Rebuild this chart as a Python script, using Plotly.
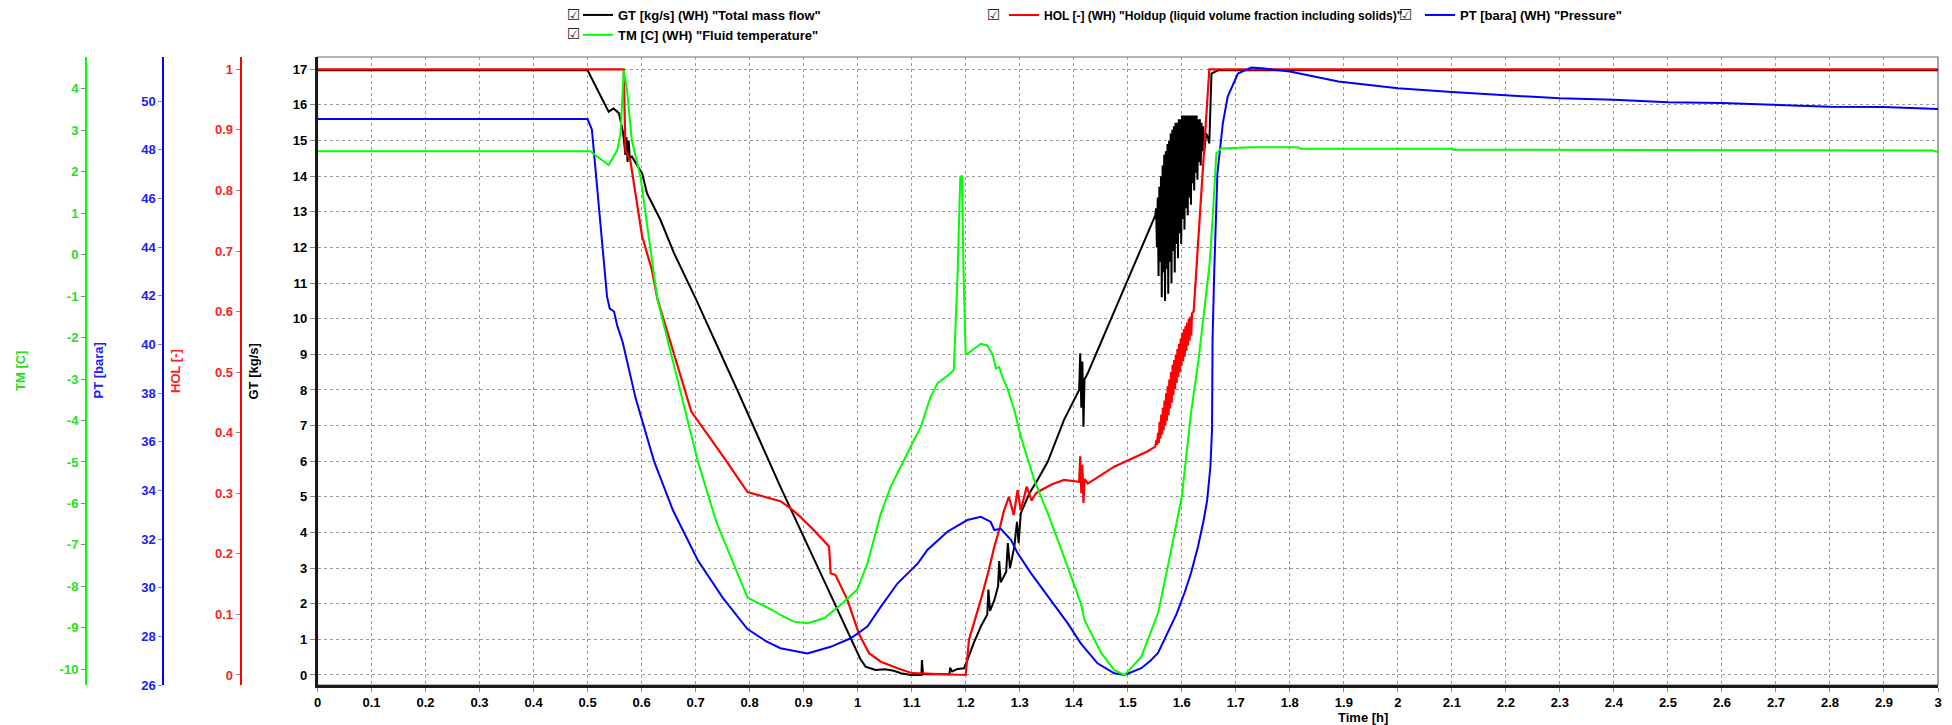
import plotly.graph_objects as go

# ---------------- data ----------------
# GT [kg/s] total mass flow : (time h, value)
GT_POINTS = [
    (0.000, 16.97), (0.500, 16.97), (0.539, 15.81), (0.548, 15.90), (0.558, 15.77),
    (0.566, 15.20), (0.570, 14.60), (0.572, 15.10), (0.574, 14.40), (0.576, 15.00),
    (0.578, 14.50), (0.582, 14.55), (0.590, 14.35), (0.601, 14.08), (0.610, 13.52),
    (0.635, 12.77), (0.660, 11.84), (0.700, 10.57), (0.780, 7.90), (0.857, 5.28),
    (0.930, 2.90), (0.987, 1.03), (1.005, 0.45), (1.015, 0.23), (1.033, 0.14),
    (1.050, 0.16), (1.067, 0.12), (1.080, 0.05), (1.098, 0.00), (1.118, 0.00),
    (1.119, 0.42), (1.121, 0.02), (1.170, 0.02), (1.171, 0.20), (1.175, 0.10),
    (1.185, 0.17), (1.197, 0.19), (1.203, 0.42), (1.215, 0.90), (1.228, 1.36),
    (1.240, 1.70), (1.242, 2.40), (1.245, 1.80), (1.253, 2.10), (1.260, 2.50),
    (1.262, 3.20), (1.265, 2.60), (1.275, 2.90), (1.278, 3.70), (1.282, 3.00),
    (1.290, 3.60), (1.295, 4.30), (1.298, 3.70), (1.302, 4.54), (1.310, 4.80),
    (1.318, 5.10), (1.333, 5.47), (1.352, 5.99), (1.382, 7.16), (1.410, 8.00),
    (1.412, 9.03), (1.414, 7.50), (1.416, 8.80), (1.418, 6.97), (1.420, 8.30),
    (1.426, 8.47), (1.500, 11.09), (1.549, 12.86),
    # oscillating section
    (1.5510, 12.9), (1.5525, 13.1), (1.5540, 12.0), (1.5555, 13.4), (1.5570, 11.2),
    (1.5585, 13.7), (1.5600, 11.6), (1.5615, 14.0), (1.5630, 10.6), (1.5645, 14.3),
    (1.5660, 11.3), (1.5675, 14.6), (1.5690, 10.5), (1.5705, 14.7), (1.5720, 11.4),
    (1.5735, 14.9), (1.5750, 10.7), (1.5765, 15.0), (1.5780, 11.6), (1.5795, 15.2),
    (1.5810, 11.0), (1.5825, 15.3), (1.5840, 11.9), (1.5855, 15.4), (1.5870, 11.3),
    (1.5885, 15.5), (1.5900, 12.1), (1.5915, 15.5), (1.5930, 11.7), (1.5945, 15.6),
    (1.5960, 12.4), (1.5975, 15.6), (1.5990, 12.1), (1.6005, 15.7), (1.6020, 12.8),
    (1.6035, 15.7), (1.6050, 12.5), (1.6065, 15.7), (1.6080, 13.1), (1.6095, 15.7),
    (1.6110, 12.9), (1.6125, 15.7), (1.6140, 13.4), (1.6155, 15.7), (1.6170, 13.2),
    (1.6185, 15.7), (1.6200, 13.8), (1.6215, 15.7), (1.6230, 13.6), (1.6245, 15.7),
    (1.6260, 14.1), (1.6275, 15.7), (1.6290, 13.9), (1.6305, 15.6), (1.6320, 14.4),
    (1.6335, 15.6), (1.6350, 14.3), (1.6365, 15.5), (1.6380, 14.7), (1.6395, 15.4),
    (1.6410, 14.6),
    (1.645, 15.20), (1.648, 15.11), (1.651, 14.92), (1.655, 16.88),
    (1.667, 16.97), (3.000, 16.97),
]

# HOL [-] holdup : (time h, value)
HOL_POINTS = [
    (0.000, 1.000), (0.567, 1.000), (0.570, 0.866), (0.579, 0.850), (0.601, 0.724),
    (0.619, 0.669), (0.629, 0.622), (0.658, 0.535), (0.692, 0.435), (0.757, 0.353),
    (0.796, 0.302), (0.857, 0.287), (0.876, 0.275), (0.894, 0.261), (0.919, 0.239),
    (0.947, 0.212), (0.950, 0.168), (0.959, 0.165), (0.981, 0.124), (1.002, 0.069),
    (1.021, 0.036), (1.043, 0.022), (1.074, 0.011), (1.101, 0.003), (1.200, 0.000),
    (1.206, 0.058), (1.228, 0.124), (1.243, 0.174), (1.253, 0.212), (1.262, 0.239),
    (1.271, 0.272), (1.280, 0.294), (1.289, 0.264), (1.296, 0.305), (1.302, 0.272),
    (1.313, 0.311), (1.322, 0.288), (1.330, 0.300), (1.339, 0.305), (1.360, 0.315),
    (1.382, 0.322), (1.410, 0.319), (1.412, 0.361), (1.414, 0.300), (1.416, 0.347),
    (1.418, 0.284), (1.420, 0.324), (1.426, 0.316), (1.475, 0.344), (1.536, 0.369),
    (1.551, 0.377),
    # oscillating section
    (1.5530, 0.388), (1.5545, 0.380), (1.5560, 0.400), (1.5575, 0.383), (1.5590, 0.418),
    (1.5605, 0.390), (1.5620, 0.430), (1.5635, 0.397), (1.5650, 0.441), (1.5665, 0.404),
    (1.5680, 0.453), (1.5695, 0.412), (1.5710, 0.465), (1.5725, 0.420), (1.5740, 0.477),
    (1.5755, 0.429), (1.5770, 0.488), (1.5785, 0.440), (1.5800, 0.500), (1.5815, 0.450),
    (1.5830, 0.512), (1.5845, 0.462), (1.5860, 0.520), (1.5875, 0.472), (1.5890, 0.529),
    (1.5905, 0.482), (1.5920, 0.538), (1.5935, 0.492), (1.5950, 0.547), (1.5965, 0.500),
    (1.5980, 0.556), (1.5995, 0.510), (1.6010, 0.565), (1.6025, 0.518), (1.6040, 0.571),
    (1.6055, 0.526), (1.6070, 0.576), (1.6085, 0.535), (1.6100, 0.582), (1.6115, 0.544),
    (1.6130, 0.588), (1.6145, 0.552), (1.6160, 0.592), (1.6175, 0.560), (1.6190, 0.597),
    (1.622, 0.600), (1.651, 1.000), (3.000, 1.000),
]

# TM [C] fluid temperature : (time h, value)
TM_POINTS = [
    (0.000, 2.49), (0.505, 2.49), (0.539, 2.16), (0.555, 2.52), (0.561, 2.92),
    (0.564, 3.73), (0.567, 4.45), (0.573, 3.97), (0.582, 2.75), (0.598, 1.87),
    (0.613, 0.43), (0.629, -1.06), (0.658, -2.57), (0.704, -4.98), (0.739, -6.47),
    (0.773, -7.53), (0.796, -8.27), (0.842, -8.57), (0.857, -8.69), (0.882, -8.85),
    (0.907, -8.89), (0.938, -8.77), (0.968, -8.45), (0.999, -8.08), (1.018, -7.45),
    (1.043, -6.24), (1.061, -5.60), (1.092, -4.79), (1.117, -4.15), (1.135, -3.43),
    (1.148, -3.10), (1.172, -2.86), (1.178, -2.78), (1.185, -0.45), (1.190, 1.88),
    (1.193, 1.89), (1.196, -0.43), (1.200, -2.42), (1.215, -2.28), (1.228, -2.15),
    (1.240, -2.19), (1.250, -2.41), (1.256, -2.75), (1.262, -2.71), (1.268, -2.96),
    (1.277, -3.22), (1.290, -3.75), (1.302, -4.39), (1.327, -5.44), (1.352, -6.24),
    (1.382, -7.29), (1.413, -8.41), (1.420, -8.81), (1.451, -9.61), (1.475, -10.02),
    (1.494, -10.14), (1.525, -9.70), (1.556, -8.65), (1.574, -7.53), (1.600, -5.84),
    (1.617, -3.83), (1.631, -2.54), (1.651, -0.29), (1.657, 0.83), (1.664, 2.44),
    (1.673, 2.56), (1.729, 2.59), (1.815, 2.59), (1.820, 2.55), (2.100, 2.55),
    (2.102, 2.53), (2.990, 2.51), (3.000, 2.47),
]

# PT [bara] pressure : (time h, value)
PT_POINTS = [
    (0.000, 49.26), (0.500, 49.26), (0.508, 48.82), (0.517, 46.62), (0.527, 44.42),
    (0.536, 41.96), (0.541, 41.47), (0.549, 41.35), (0.555, 40.76), (0.565, 40.09),
    (0.589, 37.78), (0.623, 35.20), (0.658, 33.18), (0.704, 31.13), (0.750, 29.59),
    (0.796, 28.30), (0.831, 27.79), (0.857, 27.51), (0.907, 27.30), (0.950, 27.57),
    (0.987, 27.92), (1.018, 28.40), (1.043, 29.22), (1.074, 30.18), (1.111, 30.99),
    (1.129, 31.55), (1.166, 32.30), (1.203, 32.78), (1.228, 32.91), (1.246, 32.71),
    (1.253, 32.37), (1.265, 32.42), (1.284, 31.96), (1.296, 31.42), (1.321, 30.59),
    (1.352, 29.63), (1.389, 28.53), (1.413, 27.71), (1.444, 26.89), (1.475, 26.48),
    (1.494, 26.41), (1.525, 26.69), (1.542, 27.00), (1.556, 27.32), (1.575, 28.17),
    (1.590, 28.90), (1.605, 29.78), (1.617, 30.59), (1.630, 31.68), (1.640, 32.71),
    (1.647, 33.59), (1.653, 34.98), (1.656, 36.49), (1.657, 40.18), (1.660, 42.92),
    (1.666, 47.03), (1.676, 49.08), (1.685, 50.18), (1.704, 51.13), (1.729, 51.38),
    (1.753, 51.34), (1.800, 51.21), (1.890, 50.80), (2.000, 50.53), (2.100, 50.37),
    (2.200, 50.24), (2.300, 50.11), (2.400, 50.05), (2.500, 49.95), (2.600, 49.92),
    (2.700, 49.84), (2.800, 49.77), (2.900, 49.76), (3.000, 49.67),
]

SERIES_NAMES = {
    "GT": 'GT [kg/s] (WH) "Total mass flow"',
    "TM": 'TM [C] (WH) "Fluid temperature"',
    "HOL": 'HOL [-] (WH) "Holdup (liquid volume fraction including solids)"',
    "PT": 'PT [bara] (WH) "Pressure"',
}

TM_TICKS = [-10, -9, -8, -7, -6, -5, -4, -3, -2, -1, 0, 1, 2, 3, 4]
TM_TICK_LABELS = ["-10", "-9", "-8", "-7", "-6", "-5", "-4", "-3", "-2", "-1",
                  "0", "1", "2", "3", "4"]

# ---------------- styling / layout ----------------
FONT = "Liberation Sans Narrow, Arial Narrow, Liberation Sans, Arial, sans-serif"
BLACK, RED, GREEN, BLUE = "#000000", "#ff0000", "#00ff00", "#0000ff"
GREEN_TXT = "#22e022"
BLUE_TXT = "#2020ff"
RED_TXT = "#ff2020"
GRID = "#9a9a9a"
TICKC = "#8a8a8a"

W, H = 1952, 725
ML, MR, MT, MB = 0, 14, 57, 40
PW, PH = W - ML - MR, H - MT - MB


def px_x(p):
    return (p - ML) / PW


def px_y(p):
    return (H - MB - p) / PH


def split(points):
    return [p[0] for p in points], [p[1] for p in points]


fig = go.Figure()

gx, gy = split(GT_POINTS)
tx, ty = split(TM_POINTS)
hx, hy = split(HOL_POINTS)
px_, py_ = split(PT_POINTS)

fig.add_trace(go.Scatter(x=gx, y=gy, mode="lines", name=SERIES_NAMES["GT"],
                         line=dict(color=BLACK, width=2), yaxis="y", legend="legend"))
fig.add_trace(go.Scatter(x=tx, y=ty, mode="lines", name=SERIES_NAMES["TM"],
                         line=dict(color=GREEN, width=2), yaxis="y4", legend="legend"))
fig.add_trace(go.Scatter(x=hx, y=hy, mode="lines", name=SERIES_NAMES["HOL"],
                         line=dict(color=RED, width=2.2), yaxis="y2", legend="legend2"))
fig.add_trace(go.Scatter(x=px_, y=py_, mode="lines", name=SERIES_NAMES["PT"],
                         line=dict(color=BLUE, width=2), yaxis="y3", legend="legend3"))

tickfont = lambda c: dict(family=FONT, size=13, color=c, weight="bold")

GT_RANGE = [-0.281, 17.345]
HOL_RANGE = [GT_RANGE[0] / 17, GT_RANGE[1] / 17]
PT_RANGE = [26.0, 51.81]
TM_RANGE = [-10.378, 4.764]

x0 = px_x(317.5)

fig.update_layout(
    width=W, height=H, autosize=False,
    margin=dict(l=ML, r=MR, t=MT, b=MB, pad=0, autoexpand=False),
    paper_bgcolor="white", plot_bgcolor="white",
    showlegend=True,
    xaxis=dict(domain=[x0, 1], range=[0, 3], tick0=0, dtick=0.1, anchor="y",
               showgrid=True, gridcolor=GRID, gridwidth=1, griddash="3px,3px",
               showline=True, linecolor="#1a1a1a", linewidth=2.5,
               ticks="outside", ticklen=4, tickcolor=TICKC, automargin=False,
               tickfont=tickfont(BLACK), zeroline=False),
    yaxis=dict(range=GT_RANGE, tick0=0, dtick=1, anchor="x", side="left",
               showgrid=True, gridcolor=GRID, gridwidth=1, griddash="3px,3px",
               showline=True, linecolor="#1a1a1a", linewidth=2.5, automargin=False,
               ticks="outside", ticklen=5, tickcolor=TICKC,
               tickfont=tickfont(BLACK), zeroline=False),
    yaxis2=dict(range=HOL_RANGE, tick0=0, dtick=0.1, overlaying="y", anchor="free",
                position=px_x(240.7), side="left", showgrid=False, automargin=False,
                showline=True, linecolor=RED, linewidth=2,
                ticks="outside", ticklen=4, tickcolor=TICKC,
                tickfont=tickfont(RED_TXT), zeroline=False),
    yaxis3=dict(range=PT_RANGE, tick0=26, dtick=2, overlaying="y", anchor="free",
                position=px_x(163.3), side="left", showgrid=False, automargin=False,
                showline=True, linecolor=BLUE, linewidth=2,
                ticks="outside", ticklen=4, tickcolor=TICKC,
                tickfont=tickfont(BLUE_TXT), zeroline=False),
    yaxis4=dict(range=TM_RANGE, tickmode="array", tickvals=TM_TICKS, ticktext=TM_TICK_LABELS,
                overlaying="y", anchor="free", automargin=False,
                position=px_x(86), side="left", showgrid=False,
                showline=True, linecolor=GREEN, linewidth=2,
                ticks="outside", ticklen=4, tickcolor=TICKC,
                tickfont=tickfont(GREEN_TXT), zeroline=False),
)


def legend_cfg(xpx, ypx, size):
    return dict(xref="container", yref="container", xanchor="left", yanchor="top",
                x=xpx / W, y=1 - ypx / H, orientation="v",
                font=dict(family=FONT, size=size, color=BLACK, weight="bold"),
                bgcolor="rgba(0,0,0,0)", borderwidth=0, itemwidth=30,
                tracegroupgap=0, itemclick=False, itemdoubleclick=False)


fig.update_layout(
    legend=legend_cfg(578, 0, 13),
    legend2=legend_cfg(1004, 0.5, 12),
    legend3=legend_cfg(1420, 0, 13),
)

# frame (thin grey on top / right)
fig.add_shape(type="rect", xref="paper", yref="paper", x0=x0, x1=1, y0=0, y1=1,
              line=dict(color="#6a6a6a", width=1.2), layer="below")

annos = []
# checkbox glyphs in front of legend entries
for cx, cy in [(573, 15), (573, 34), (993, 15), (1405, 15)]:
    annos.append(dict(x=px_x(cx), y=px_y(cy), xref="paper", yref="paper", text="☑",
                      showarrow=False, xanchor="center", yanchor="middle",
                      font=dict(family="DejaVu Sans", size=15, color="#222222")))
# axis titles
for txt, cx, col in [("TM [C]", 20, GREEN_TXT), ("PT [bara]", 97.5, BLUE_TXT),
                     ("HOL [-]", 175, RED_TXT), ("GT [kg/s]", 252.5, BLACK)]:
    annos.append(dict(x=px_x(cx), y=0.5, xref="paper", yref="paper", text=txt,
                      textangle=-90, showarrow=False, xanchor="center", yanchor="middle",
                      font=dict(family=FONT, size=13, color=col, weight="bold")))
annos.append(dict(x=px_x(1363), y=px_y(717), xref="paper", yref="paper", text="Time [h]",
                  showarrow=False, xanchor="center", yanchor="middle",
                  font=dict(family=FONT, size=13, color=BLACK, weight="bold")))
fig.update_layout(annotations=annos)

fig.write_html("out.html")
